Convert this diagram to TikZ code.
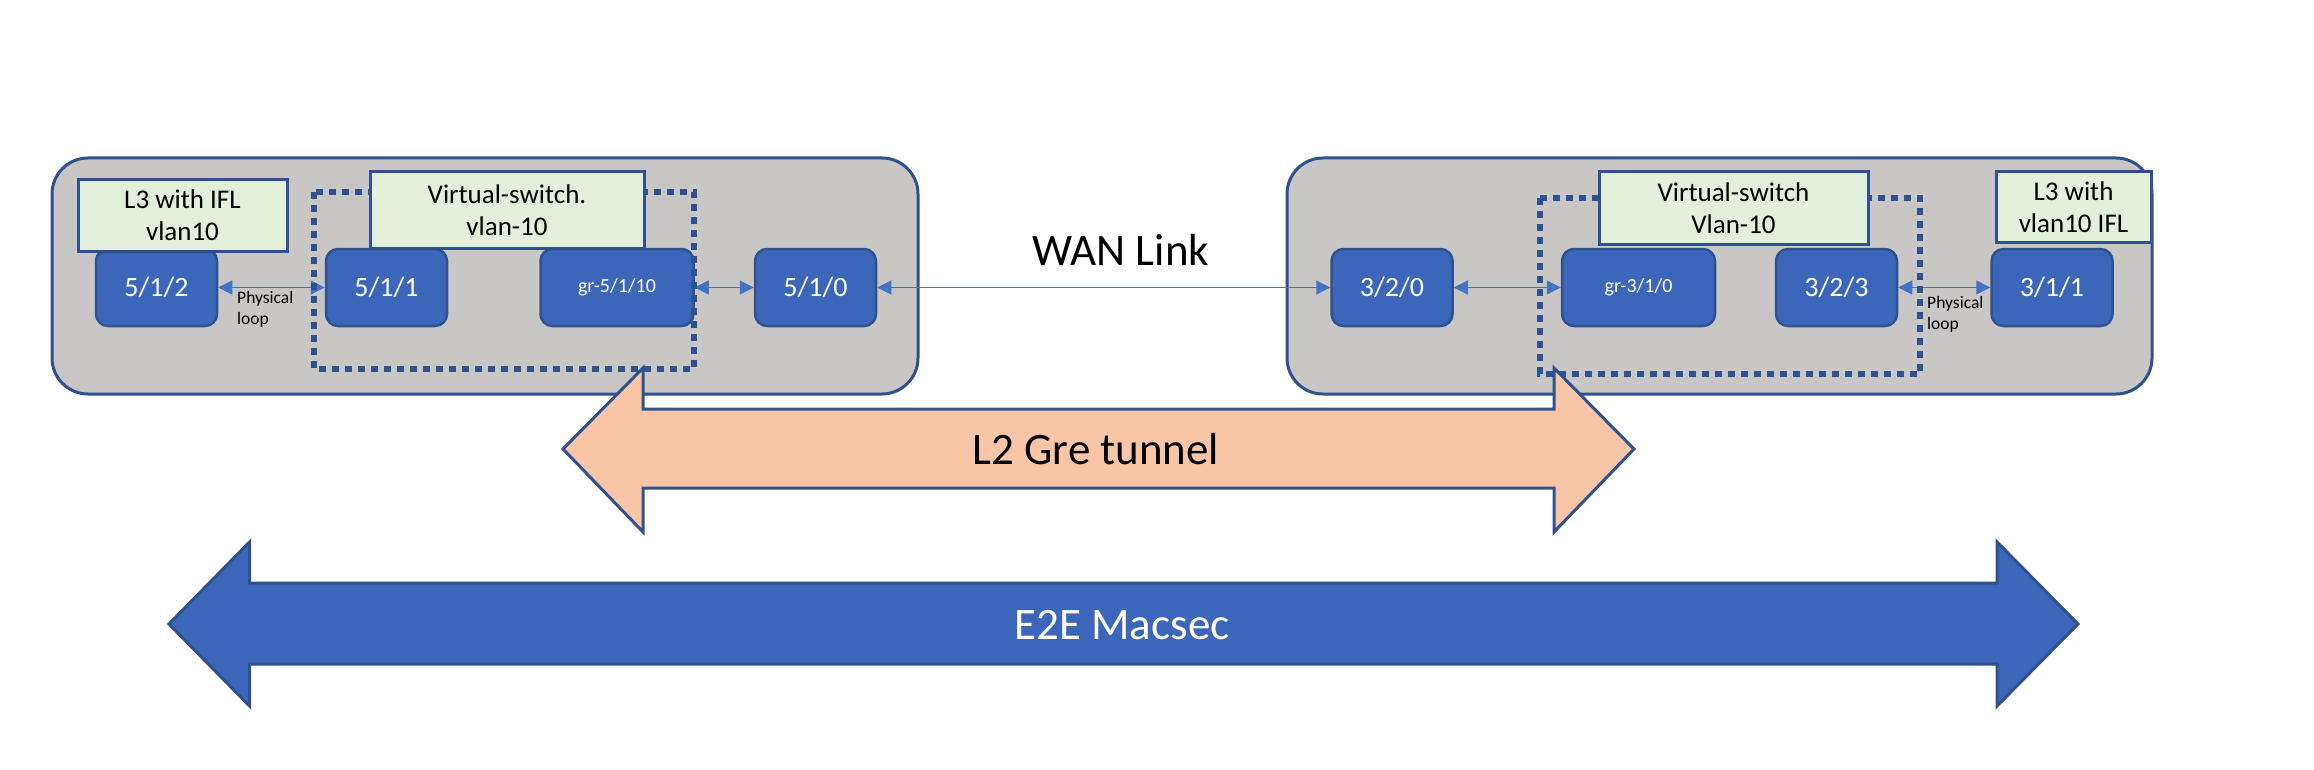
\documentclass[tikz,border=0pt]{standalone}
\usepackage{fontspec}
\setmainfont{Carlito}
\usepackage{tikz}
\usetikzlibrary{arrows.meta,positioning}
\definecolor{portblue}{HTML}{3C66B9}
\definecolor{edgeblue}{HTML}{2F528F}
\definecolor{linkblue}{HTML}{4472C4}
\definecolor{boxgrey}{HTML}{C9C7C6}
\definecolor{labelgreen}{HTML}{E2EFDA}
\definecolor{tunnelorange}{HTML}{F8C5A7}

\begin{document}
\begin{tikzpicture}[x=1pt, y=-1pt,
        router/.style={draw=edgeblue, fill=boxgrey, line width=3pt, rounded corners=36pt},
        port/.style={draw=edgeblue, fill=portblue, line width=2.5pt, rounded corners=12pt, text=white,
            minimum width=121pt, minimum height=77pt, inner sep=0pt, font=\fontsize{28}{34}\selectfont},
        grport/.style={port, minimum width=153pt, font=\fontsize{20}{24}\selectfont},
        tag/.style={draw=edgeblue, fill=labelgreen, line width=3pt, align=center, inner sep=0pt,
            font=\fontsize{27}{32}\selectfont},
        vswitch/.style={draw=edgeblue, line width=5.5pt, dash pattern=on 7pt off 6pt},
        link/.style={draw=linkblue, line width=1.3pt,
            {Triangle[length=14pt,width=14pt]}-{Triangle[length=14pt,width=14pt]}},
        bigarrow/.style={draw=edgeblue, line width=3pt},
        note/.style={align=left, inner sep=0pt, font=\fontsize{17.5}{21.5}\selectfont},
        big/.style={inner sep=0pt, font=\fontsize{45}{54}\selectfont}]

    \useasboundingbox (0,0) rectangle (2314,770);

    \draw[router] (52,158) rectangle (918,394);
    \draw[router] (1287,158) rectangle (2152,394);

    \node[port] (p512) at (156.5,287.5) {5/1/2};
    \node[port] (p511) at (386.5,287.5) {5/1/1};
    \node[grport] (gr5110) at (617,287.5) {gr-5/1/10};
    \node[port] (p510) at (815.5,287.5) {5/1/0};
    \node[port] (p320) at (1392,287.5) {3/2/0};
    \node[grport] (gr310) at (1638.5,287.5) {gr-3/1/0};
    \node[port] (p323) at (1836.5,287.5) {3/2/3};
    \node[port] (p311) at (2052,287.5) {3/1/1};

    \draw[link] (p512.east) -- (p511.west);
    \draw[link] (gr5110.east) -- (p510.west);
    \draw[link] (p510.east) -- (p320.west);
    \draw[link] (p320.east) -- (gr310.west);
    \draw[link] (p323.east) -- (p311.west);

    \draw[vswitch] (314,192) rectangle (694,369);
    \draw[vswitch] (1540,198) rectangle (1920,374);

    \node[tag, minimum width=209pt, minimum height=71pt] (l3a) at (182.5,215.5) {L3 with IFL\\vlan10};
    \node[tag, minimum width=274pt, minimum height=76pt] (vsa) at (507,210) {Virtual-switch.\\vlan-10};
    \node[tag, minimum width=269pt, minimum height=72pt] (vsb) at (1733.5,208) {Virtual-switch\\Vlan-10};
    \node[tag, minimum width=155pt, minimum height=70pt] (l3b) at (2073.5,207) {L3 with\\vlan10 IFL};

    \node[note, anchor=north west] (loopa) at (237,291) {Physical\\loop};
    \node[note, anchor=north west] (loopb) at (1927,296) {Physical\\loop};

    \node[big, anchor=base] (wan) at (1121,265) {WAN Link};

    \draw[bigarrow, fill=tunnelorange] (563,449) -- (643,368) -- (643,409) -- (1554,409) -- (1554,368)
        -- (1634,449) -- (1554,532) -- (1554,488) -- (643,488) -- (643,532) -- cycle;
    \node[big, anchor=base] (gre) at (1096,464) {L2 Gre tunnel};

    \draw[bigarrow, fill=portblue] (169,624) -- (249.5,542) -- (249.5,583) -- (1997,583) -- (1997,542)
        -- (2078,624) -- (1997,706) -- (1997,664) -- (249.5,664) -- (249.5,706) -- cycle;
    \node[big, anchor=base, text=white] (macsec) at (1122,639) {E2E Macsec};
\end{tikzpicture}
\end{document}
